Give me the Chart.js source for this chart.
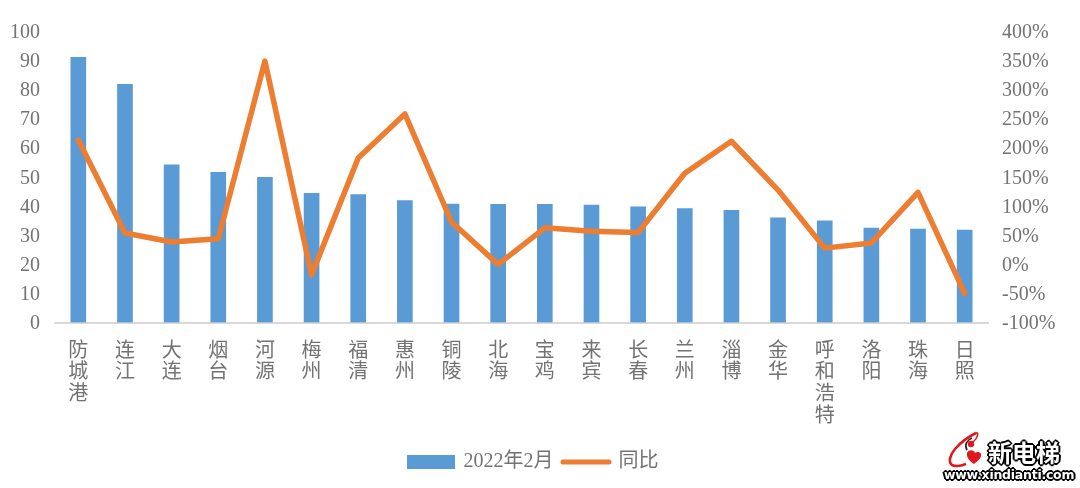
<!DOCTYPE html>
<html><head><meta charset="utf-8">
<script src="https://cdn.jsdelivr.net/npm/chart.js@4"></script>
<style>
html,body{margin:0;padding:0;background:#fff;width:1080px;height:488px;overflow:hidden}
#wrap{position:relative;width:1080px;height:488px}
canvas{display:block}
.wm{position:absolute;font-weight:700;color:#fff;text-shadow:-1px -1px 0 #000,1px -1px 0 #000,-1px 1px 0 #000,1px 1px 0 #000,0 2px 0 #000,2px 0 0 #000,-2px 0 0 #000,0 -2px 0 #000}
</style></head><body>
<div id="wrap"><canvas id="c" width="1080" height="488"></canvas>
<svg style="position:absolute;left:940px;top:426px" width="60" height="50" viewBox="0 0 60 50">
<path d="M36 7C28 11 21 16 15 23 10 29 8 36 12 39c4 2 9 1 14-1" fill="none" stroke="#e0181c" stroke-width="2.6"/>
<path d="M36 7c3-1 2 5-3 9" fill="none" stroke="#e0181c" stroke-width="1.6"/>
<path d="M27 24c-3-5 0-10 5-12" fill="none" stroke="#222" stroke-width="1.6"/>
<circle cx="31" cy="18" r="3.2" fill="#e0181c"/>
<path d="M27 27c2-4 7-3 8 0 2-2 7-1 6 3-1 4-5 6-7 8-3-2-8-6-7-11z" fill="#e0181c"/>
</svg>
<div class="wm" style="left:988px;top:438px;font:700 24px/28px 'Noto Sans CJK SC';letter-spacing:0">新电梯</div>
<div class="wm" style="left:944px;top:468px;font:700 12.5px/14px 'DejaVu Sans';letter-spacing:-.25px">www.xindianti.com</div>
</div>
<script>
const categories = ["防城港","连江","大连","烟台","河源","梅州","福清","惠州","铜陵","北海","宝鸡","来宾","长春","兰州","淄博","金华","呼和浩特","洛阳","珠海","日照"];
const barValues = [91.3,82,54.3,51.7,50,44.5,44,42,40.8,40.7,40.7,40.4,39.8,39.2,38.6,36,35,32.5,32.2,31.8];
const yoyValues = [214,54,38.5,44,350,-18,183,259,73,0,63,57,55,157,212,128,28,37,124,-50];
const barName = "2022年2月";
const lineName = "同比";
const leftMax = 100, leftStep = 10;
const rightMin = -100, rightMax = 400, rightStep = 50;
const blue = "#5b9bd5", orange = "#ed7d31", textColor = "#737373", axisColor = "#d9d9d9";
const fontFamily = "'Liberation Serif','Noto Sans CJK SC',serif";

function swatch(w,draw){
  const s = document.createElement('canvas'); s.width = w; s.height = 14;
  draw(s.getContext('2d')); return s;
}
const barSwatch = swatch(48,x=>{x.fillStyle=blue;x.fillRect(0,0,48,14);});
const lineSwatch = swatch(52,x=>{x.strokeStyle=orange;x.lineWidth=5;x.lineCap='round';x.beginPath();x.moveTo(3,7);x.lineTo(49,7);x.stroke();});

new Chart(document.getElementById('c'),{
  data:{labels:categories.map(c=>Array.from(c)),datasets:[
    {type:'line',label:lineName,data:yoyValues,yAxisID:'y2',borderColor:orange,backgroundColor:orange,borderWidth:5.5,pointRadius:0,tension:0,borderCapStyle:'round',borderJoinStyle:'round',order:0},
    {type:'bar',label:barName,data:barValues,yAxisID:'y',backgroundColor:blue,barThickness:15,order:1}
  ]},
  options:{
    responsive:false,animation:false,devicePixelRatio:1,
    layout:{padding:{top:32,bottom:6,left:0,right:13}},
    font:{family:fontFamily},
    plugins:{
      tooltip:{enabled:false},
      legend:{position:'bottom',labels:{
        usePointStyle:true,pointStyleWidth:45,color:textColor,padding:10,
        font:{family:fontFamily,size:20},
        generateLabels:()=>[
          {text:barName,pointStyle:barSwatch,fontColor:textColor,datasetIndex:1,lineWidth:0},
          {text:lineName,pointStyle:lineSwatch,fontColor:textColor,datasetIndex:0,lineWidth:0}
        ]
      }}
    },
    scales:{
      x:{offset:true,grid:{display:false,drawTicks:false},border:{color:axisColor,width:2},
        ticks:{color:textColor,autoSkip:false,maxRotation:0,minRotation:0,padding:18,font:{family:fontFamily,size:20,lineHeight:1.09}},
        afterFit(s){s.height=119.5;}},
      y:{position:'left',min:0,max:leftMax,grid:{display:false,drawTicks:false},border:{display:false},
        ticks:{stepSize:leftStep,color:textColor,padding:15,labelOffset:1,font:{family:fontFamily,size:20}},
        afterFit(s){s.width=55;}},
      y2:{position:'right',min:rightMin,max:rightMax,grid:{display:false,drawTicks:false},border:{display:false},
        ticks:{stepSize:rightStep,color:textColor,padding:14,labelOffset:1,font:{family:fontFamily,size:20},callback:v=>v+'%'},
        afterFit(s){s.width=79;}}
    }
  }
});
</script>
</body></html>
